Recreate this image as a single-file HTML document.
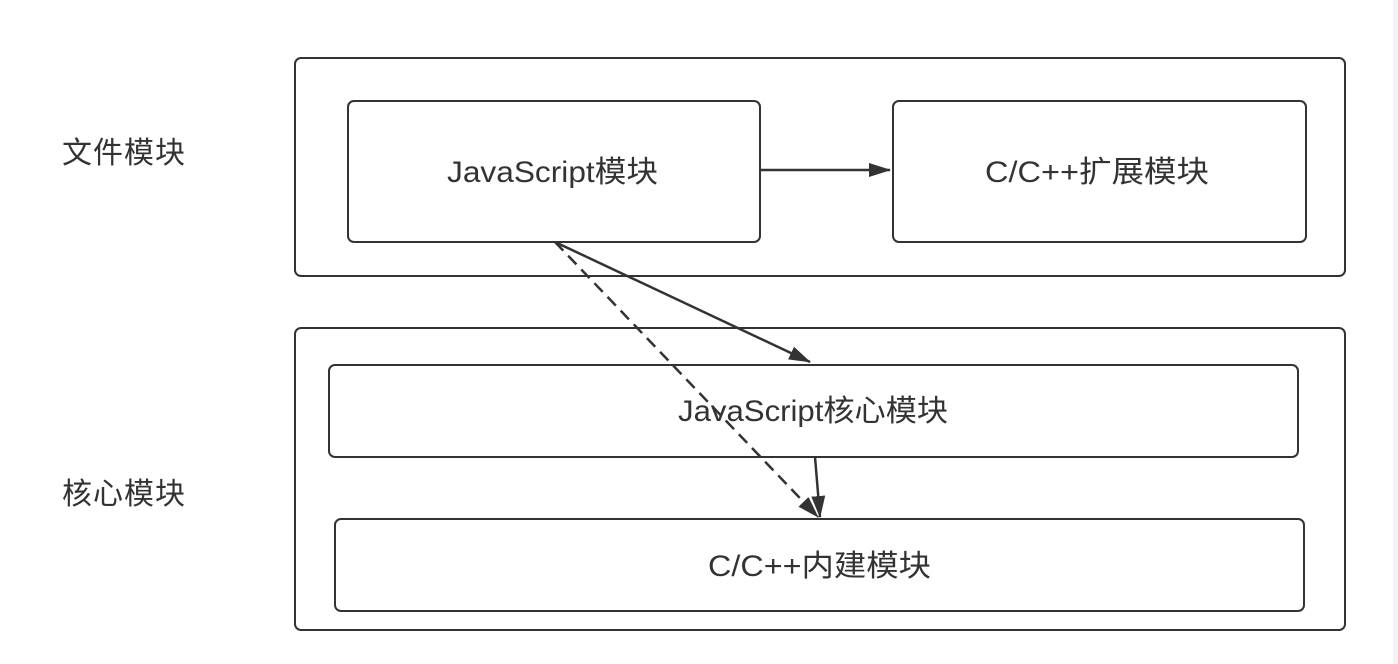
<!DOCTYPE html>
<html><head><meta charset="utf-8"><style>
html,body{margin:0;padding:0;background:#fff;}
svg{display:block;}
text{font-family:"Liberation Sans","Noto Sans CJK SC",sans-serif;fill:#333;font-size:30px;}
</style></head><body>
<svg width="1398" height="664" viewBox="0 0 1398 664" xmlns="http://www.w3.org/2000/svg">
<defs>
<marker id="b" markerWidth="22" markerHeight="14" refX="21" refY="7" orient="auto" markerUnits="userSpaceOnUse" viewBox="0 0 22 14">
<path d="M0,0 L22,7 L0,14 Z" fill="#333"/></marker>
</defs>
<rect x="1393" y="0" width="5" height="664" fill="#f3f3f6"/>
<g fill="none" stroke="#333" stroke-width="2">
<rect x="295" y="58" width="1050" height="218" rx="6"/>
<rect x="295" y="328" width="1050" height="302" rx="6"/>
<rect x="348" y="101" width="412" height="141" rx="6"/>
<rect x="893" y="101" width="413" height="141" rx="6"/>
<rect x="329" y="365" width="969" height="92" rx="6"/>
<rect x="335" y="519" width="969" height="92" rx="6"/>
<line x1="760" y1="170" x2="890" y2="170" stroke-width="2.5" marker-end="url(#b)"/>
<line x1="555" y1="242" x2="810" y2="362" stroke-width="2.5" marker-end="url(#b)"/>
<line x1="555" y1="242" x2="818" y2="517" stroke-width="2.5" stroke-dasharray="12,7" marker-end="url(#b)"/>
<line x1="815" y1="457" x2="820" y2="517" stroke-width="2.5" marker-end="url(#b)"/>
</g>
<text x="62" y="163" textLength="123" lengthAdjust="spacing">文件模块</text>
<text x="62" y="504" textLength="123" lengthAdjust="spacing">核心模块</text>
<text x="447" y="182" textLength="211" lengthAdjust="spacingAndGlyphs">JavaScript模块</text>
<text x="985" y="182" textLength="224" lengthAdjust="spacingAndGlyphs">C/C++扩展模块</text>
<text x="678" y="421" textLength="270" lengthAdjust="spacingAndGlyphs">JavaScript核心模块</text>
<text x="708" y="576" textLength="223" lengthAdjust="spacingAndGlyphs">C/C++内建模块</text>
</svg>
</body></html>
